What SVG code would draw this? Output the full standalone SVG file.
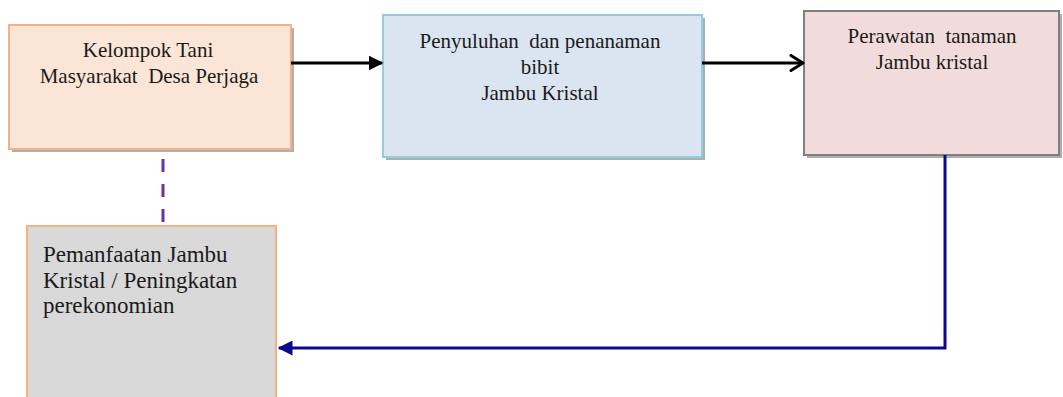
<svg xmlns="http://www.w3.org/2000/svg" width="1063" height="397" viewBox="0 0 1063 397">
<style>
text{font-family:'Liberation Serif','Times New Roman',serif;font-size:21px;fill:#1a1a1a}
.c{text-anchor:middle}
.b{font-size:23px}
.sh{fill:#8c8c8c;opacity:0.7}
</style>
<defs>
<marker id="af" markerWidth="5" markerHeight="5" refX="4.5" refY="2.5" orient="auto" markerUnits="strokeWidth">
<path d="M0,0 L5,2.5 L0,5 Z" fill="#000"/>
</marker>
<marker id="ao" markerWidth="6" markerHeight="6" refX="5" refY="3" orient="auto" markerUnits="strokeWidth">
<path d="M1,0.5 L5,3 L1,5.5" fill="none" stroke="#000" stroke-width="1" stroke-linecap="round" stroke-linejoin="round"/>
</marker>
<marker id="ab" markerWidth="5" markerHeight="5" refX="4.5" refY="2.5" orient="auto" markerUnits="strokeWidth">
<path d="M0,0 L5,2.5 L0,5 Z" fill="#0a0a8a"/>
</marker>
</defs>
<g id="node-kelompok">
<rect class="sh" x="12" y="28" width="282" height="124"/>
<rect x="9" y="25" width="282" height="124" fill="#fbe5d6" stroke="#f4b183" stroke-width="2"/>
<text class="c" x="148" y="57" font-family="Liberation Serif, serif">Kelompok Tani</text>
<text class="c" x="149" y="83" font-family="Liberation Serif, serif" xml:space="preserve">Masyarakat  Desa Perjaga</text>
</g>
<g id="node-penyuluhan">
<rect class="sh" x="386" y="18" width="319" height="142"/>
<rect x="383" y="15" width="319" height="142" fill="#dbe5f1" stroke="#93cddd" stroke-width="2"/>
<text class="c" x="540" y="48" font-family="Liberation Serif, serif" xml:space="preserve">Penyuluhan  dan penanaman</text>
<text class="c" x="540" y="74" font-family="Liberation Serif, serif">bibit</text>
<text class="c" x="540" y="100" font-family="Liberation Serif, serif">Jambu Kristal</text>
</g>
<g id="node-perawatan">
<rect class="sh" x="807" y="14" width="255" height="144"/>
<rect x="804" y="11" width="255" height="144" fill="#f2dcdb" stroke="#7f7f7f" stroke-width="2"/>
<text class="c" x="932" y="43" font-family="Liberation Serif, serif" xml:space="preserve">Perawatan  tanaman</text>
<text class="c" x="932" y="69" font-family="Liberation Serif, serif">Jambu kristal</text>
</g>
<g id="node-pemanfaatan">
<rect x="27" y="226" width="249" height="175" fill="#d9d9d9" stroke="#f4b183" stroke-width="2"/>
<text class="b" x="43" y="262" font-family="Liberation Serif, serif">Pemanfaatan Jambu</text>
<text class="b" x="43" y="288" font-family="Liberation Serif, serif">Kristal / Peningkatan</text>
<text class="b" x="43" y="313" font-family="Liberation Serif, serif">perekonomian</text>
</g>
<g id="connectors">
<line x1="291" y1="63" x2="382" y2="63" stroke="#000" stroke-width="3" marker-end="url(#af)"/>
<line x1="702" y1="63" x2="803" y2="63" stroke="#000" stroke-width="3" marker-end="url(#ao)"/>
<line x1="163" y1="159" x2="163" y2="224" stroke="#7030a0" stroke-width="3" stroke-dasharray="13 12"/>
<path d="M945,155 V348 H279" fill="none" stroke="#0a0a8a" stroke-width="3" marker-end="url(#ab)"/>
</g>
</svg>
